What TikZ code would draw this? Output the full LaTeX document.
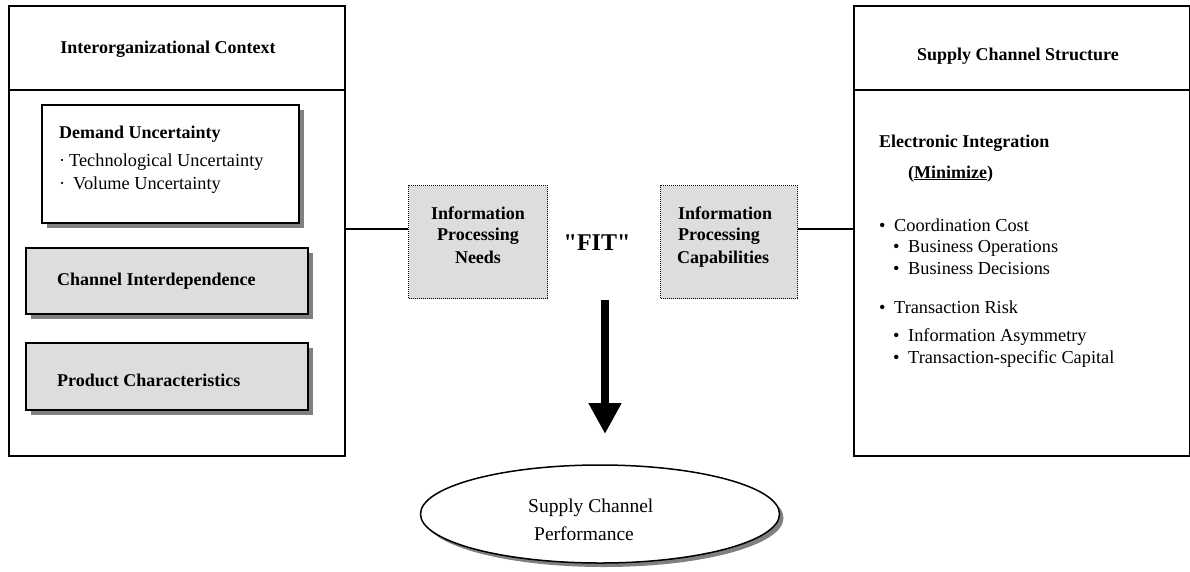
\documentclass[tikz,border=0pt]{standalone}
\usepackage{fontspec}
\setmainfont{Liberation Serif}
\usetikzlibrary{shapes.geometric,shadows,arrows.meta}
\definecolor{boxgray}{RGB}{221,221,221}
\definecolor{shadowgray}{RGB}{128,128,128}
\newcommand{\bul}{\makebox[15pt][l]{•}}
\begin{document}
\begin{tikzpicture}[x=1pt,y=-1pt,
    every node/.style={font=\fontsize{18.3}{22}\selectfont},
    frame/.style={draw,line width=1.5pt,rectangle,anchor=north west,inner sep=0pt},
    shade/.style={drop shadow={shadow xshift=5pt,shadow yshift=-5pt,fill=shadowgray,opacity=1}},
    infobox/.style={frame,line width=1.2pt,dash pattern=on 1pt off 1pt,fill=boxgray,
      minimum width=139pt,minimum height=113pt},
    txt/.style={anchor=base west,inner sep=0pt},
    head/.style={anchor=base,inner sep=0pt,font=\fontsize{18}{22}\selectfont\bfseries},
    link/.style={line width=1.3pt}]
  \useasboundingbox (0,0) rectangle (1190,571);
  \node[frame,minimum width=336pt,minimum height=84pt] (ctxhead) at (8,5) {};
  \node[frame,minimum width=336pt,minimum height=366pt] (ctxbody) at (8,89) {};
  \node[head] (ctxtitle) at (168,53) {Interorganizational Context};
  \node[frame,fill=white,shade,minimum width=257pt,minimum height=118pt] (demand) at (41,104) {};
  \node[txt,font=\fontsize{18}{22}\selectfont\bfseries] (demandtitle) at (59,138) {Demand Uncertainty};
  \node[txt] (techunc) at (59,166) {\makebox[10pt][l]{·}Technological Uncertainty};
  \node[txt] (volunc) at (59,189) {\makebox[14pt][l]{·}Volume Uncertainty};
  \node[frame,fill=boxgray,shade,minimum width=282pt,minimum height=66pt] (interdep) at (25,247) {};
  \node[txt,font=\fontsize{18}{22}\selectfont\bfseries] (interdeptext) at (57,285) {Channel Interdependence};
  \node[frame,fill=boxgray,shade,minimum width=282pt,minimum height=67pt] (product) at (25,342) {};
  \node[txt,font=\fontsize{18}{22}\selectfont\bfseries] (producttext) at (57,386) {Product Characteristics};
  \node[infobox] (needs) at (408,185) {};
  \node[head] (needs1) at (478,219) {Information};
  \node[head] (needs2) at (478,240) {Processing};
  \node[head] (needs3) at (478,263) {Needs};
  \node[head,font=\fontsize{24}{28}\selectfont\bfseries] (fit) at (597,250) {\textquotedbl FIT\textquotedbl};
  \node[infobox,minimum width=137pt] (capab) at (660,185) {};
  \node[txt,font=\fontsize{18}{22}\selectfont\bfseries] (capab1) at (678,219) {Information};
  \node[txt,font=\fontsize{18}{22}\selectfont\bfseries] (capab2) at (678,240) {Processing};
  \node[txt,font=\fontsize{18}{22}\selectfont\bfseries] (capab3) at (677,263) {Capabilities};
  \node[frame,minimum width=336pt,minimum height=84pt] (schead) at (853,5) {};
  \node[frame,minimum width=336pt,minimum height=366pt] (scbody) at (853,89) {};
  \node[head] (sctitle) at (1018,60) {Supply Channel Structure};
  \node[txt,font=\fontsize{18}{22}\selectfont\bfseries] (elint) at (879,147) {Electronic Integration};
  \node[txt,font=\fontsize{18}{22}\selectfont\bfseries] (minim) at (908,178) {(\underline{Minimize})};
  \node[txt] (coord) at (879,231) {\bul Coordination Cost};
  \node[txt] (busops) at (893,252) {\bul Business Operations};
  \node[txt] (busdec) at (893,274) {\bul Business Decisions};
  \node[txt] (transrisk) at (879,313) {\bul Transaction Risk};
  \node[txt] (infoasym) at (893,341) {\bul Information Asymmetry};
  \node[txt] (transcap) at (893,363) {\bul Transaction-specific Capital};
  \node[ellipse,draw,line width=1.5pt,fill=white,
    drop shadow={shadow xshift=4pt,shadow yshift=-4pt,fill=shadowgray,opacity=1},
    minimum width=359pt,minimum height=98pt,inner sep=0pt] (perf) at (600,514) {};
  \node[txt,font=\fontsize{19.5}{23}\selectfont] (perf1) at (528,512) {Supply Channel};
  \node[txt,font=\fontsize{19.5}{23}\selectfont] (perf2) at (534,540) {Performance};
  \coordinate (linky) at (0,229);
  \coordinate (arrowtop) at (605,300);
  \coordinate (arrowtip) at (605,434);
  \draw[link] (ctxbody.east |- linky) -- (needs.west |- linky);
  \draw[link] (capab.east |- linky) -- (scbody.west |- linky);
  \draw[line width=8pt,-{Triangle[length=31pt,width=31pt]}] (arrowtop) -- (arrowtip);
\end{tikzpicture}
\end{document}
